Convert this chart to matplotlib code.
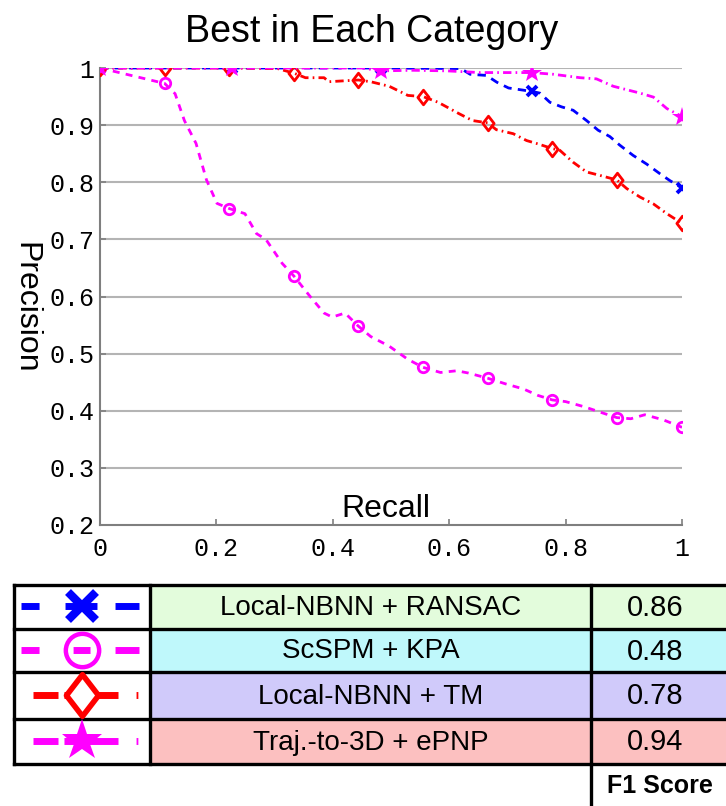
#!/usr/bin/env python3

import matplotlib

matplotlib.use("Agg")
import matplotlib.pyplot as plt
import numpy as np
from matplotlib.path import Path
from matplotlib.patches import Rectangle

plt.rcParams["font.family"] = ["Liberation Sans", "DejaVu Sans"]
plt.rcParams["lines.scale_dashes"] = False

# ---- curve data (recall, precision) ----
ransac_x = [0, 0.227, 0.483, 0.62, 0.636, 0.664, 0.682, 0.702, 0.722, 0.742, 0.756,
            0.773, 0.793, 0.813, 0.836, 0.856, 0.876, 0.893, 0.916, 0.939, 0.962,
            0.979, 1.0]
ransac_y = [1, 1, 1, 0.999, 0.989, 0.987, 0.975, 0.965, 0.962, 0.959, 0.956,
            0.940, 0.932, 0.926, 0.908, 0.891, 0.880, 0.865, 0.847, 0.832, 0.815,
            0.803, 0.790]
ransac_marks = [0, 0.227, 0.483, 0.742, 1.0]

kpa_x = [0, 0.111, 0.129, 0.145, 0.165, 0.183, 0.201, 0.222, 0.249, 0.269, 0.285,
         0.313, 0.333, 0.361, 0.385, 0.399, 0.421, 0.444, 0.465, 0.497, 0.529,
         0.555, 0.585, 0.613, 0.633, 0.666, 0.697, 0.728, 0.752, 0.777, 0.8,
         0.832, 0.864, 0.888, 0.912, 0.936, 0.968, 1.0]
kpa_y = [1, 0.973, 0.955, 0.908, 0.868, 0.804, 0.763, 0.754, 0.745, 0.710, 0.700,
         0.658, 0.636, 0.600, 0.571, 0.564, 0.571, 0.548, 0.530, 0.513, 0.490,
         0.476, 0.467, 0.470, 0.466, 0.457, 0.447, 0.438, 0.427, 0.419, 0.416,
         0.407, 0.396, 0.388, 0.386, 0.393, 0.384, 0.371]
kpa_marks = [0, 0.111, 0.222, 0.333, 0.444, 0.555, 0.666, 0.777, 0.888, 1.0]

tm_x = [0, 0.111, 0.222, 0.305, 0.333, 0.353, 0.385, 0.393, 0.444, 0.465, 0.497,
        0.529, 0.555, 0.581, 0.617, 0.640, 0.666, 0.681, 0.710, 0.733, 0.753,
        0.777, 0.790, 0.813, 0.836, 0.859, 0.888, 0.905, 0.928, 0.951, 0.974, 1.0]
tm_y = [1, 1, 1, 0.999, 0.991, 0.983, 0.983, 0.976, 0.979, 0.976, 0.968,
        0.952, 0.950, 0.940, 0.920, 0.908, 0.904, 0.892, 0.885, 0.873, 0.867,
        0.859, 0.856, 0.835, 0.818, 0.812, 0.804, 0.789, 0.774, 0.762, 0.745, 0.728]
tm_marks = [0, 0.111, 0.222, 0.333, 0.444, 0.555, 0.666, 0.777, 0.888, 1.0]

traj_x = [0, 0.227, 0.45, 0.483, 0.538, 0.596, 0.653, 0.710, 0.742, 0.779, 0.825,
          0.853, 0.882, 0.905, 0.928, 0.951, 0.974, 1.0]
traj_y = [1, 1, 1, 0.995, 0.996, 0.995, 0.992, 0.992, 0.992, 0.989, 0.983,
          0.981, 0.968, 0.962, 0.956, 0.949, 0.929, 0.915]
traj_marks = [0, 0.227, 0.483, 0.742, 1.0]

# ---- table data ----
methods = ["Local-NBNN + RANSAC", "ScSPM + KPA", "Local-NBNN + TM", "Traj.-to-3D + ePNP"]
f1_scores = ["0.86", "0.48", "0.78", "0.94"]
row_colors = ["#e3fcdc", "#bff8fb", "#d0cafa", "#fcc0c0"]

x_ticks = [0, 0.2, 0.4, 0.6, 0.8, 1.0]
x_tick_labels = ["0", "0.2", "0.4", "0.6", "0.8", "1"]
y_ticks = [0.2, 0.3, 0.4, 0.5, 0.6, 0.7, 0.8, 0.9, 1.0]
y_tick_labels = ["0.2", "0.3", "0.4", "0.5", "0.6", "0.7", "0.8", "0.9", "1"]

MAGENTA = "#ff00ff"
BLUE = "#0000ff"
RED = "#ff0000"

diamond = Path([(0, 1), (0.77, 0), (0, -1), (-0.77, 0), (0, 1)],
               [Path.MOVETO, Path.LINETO, Path.LINETO, Path.LINETO, Path.CLOSEPOLY])

W, H = 726, 806
fig = plt.figure(figsize=(W / 100, H / 100), dpi=100)


def mark_idx(xs, marks):
    return [int(np.argmin(np.abs(np.array(xs) - m))) for m in marks]


# ---- main plot ----
ax = fig.add_axes([100 / W, 1 - 525 / H, 582 / W, 457 / H])
ax.set_xlim(0, 1)
ax.set_ylim(0.2, 1.0)
for y in y_ticks[1:]:
    ax.axhline(y, color="#b4b4b4", lw=1.5, zorder=1)

series = [
    (ransac_x, ransac_y, ransac_marks, BLUE, (0, (6, 4.5)), "x",
     dict(ms=6.5, mew=2.8)),
    (kpa_x, kpa_y, kpa_marks, MAGENTA, (0, (5, 4.5)), "o",
     dict(ms=7.5, mew=2, mfc="none")),
    (tm_x, tm_y, tm_marks, RED, (0, (6, 3, 1.2, 3)), diamond,
     dict(ms=10.5, mew=2, mfc="none")),
    (traj_x, traj_y, traj_marks, MAGENTA, (0, (6, 3, 1.2, 3)), "*",
     dict(ms=15, mew=0)),
]
for xs, ys, marks, color, ls, marker, mkw in series:
    ax.plot(xs, ys, color=color, lw=2, ls=ls, marker=marker,
            markevery=mark_idx(xs, marks), mec=color, zorder=3, **mkw)

for side in ("top", "right"):
    ax.spines[side].set_visible(False)
for side in ("left", "bottom"):
    ax.spines[side].set_color("#7f7f7f")
    ax.spines[side].set_linewidth(1.5)

ax.set_xticks(x_ticks)
ax.set_xticklabels(x_tick_labels)
ax.set_yticks(y_ticks)
ax.set_yticklabels(y_tick_labels)
ax.tick_params(axis="both", direction="in", length=4, width=1.2, color="#7f7f7f",
               labelsize=18)
ax.tick_params(axis="x", pad=9)
ax.tick_params(axis="y", pad=4)
for lab in ax.get_xticklabels() + ax.get_yticklabels():
    lab.set_family("Liberation Mono")

ax.text(0.491, 0.0175, "Recall", transform=ax.transAxes, ha="center",
        va="baseline", fontsize=23)
fig.text(25 / W, 1 - 308 / H, "Precision", rotation=-90, ha="center",
         va="center", fontsize=23)
fig.text(372 / W, 1 - 42 / H, "Best in Each Category", ha="center",
         va="baseline", fontsize=27)

# ---- legend table ----
tab = fig.add_axes([0, 0, 1, 1], zorder=-1)
tab.set_xlim(0, W)
tab.set_ylim(H, 0)
tab.axis("off")

row_edges = [585, 629, 672, 719, 764]
col_edges = [14, 150, 591, 730]

for i, color in enumerate(row_colors):
    top, bot = row_edges[i], row_edges[i + 1]
    tab.add_patch(Rectangle((col_edges[1], top), col_edges[3] - col_edges[1],
                            bot - top, facecolor=color, edgecolor="none"))
    yc = (top + bot) / 2 + 1
    tab.text((col_edges[1] + col_edges[2]) / 2, yc, methods[i], ha="center",
             va="center", fontsize=20)
    tab.text((col_edges[2] + col_edges[3]) / 2 - 5, yc, f1_scores[i],
             ha="center", va="center", fontsize=21)

for y in row_edges:
    tab.plot([col_edges[0], col_edges[3]], [y, y], color="black", lw=2.4,
             solid_capstyle="projecting")
for x in col_edges[:3]:
    tab.plot([x, x], [row_edges[0], row_edges[-1]], color="black", lw=2.4,
             solid_capstyle="projecting")
tab.plot([col_edges[2], col_edges[2]], [row_edges[-1], H], color="black", lw=2.4)
tab.text(660, 786, "F1 Score", ha="center", va="center", fontsize=18,
         fontweight="bold")

# legend icons: (x start, dash pattern in points, marker style)
icon_cx = 82
icons = [
    (21, BLUE, (0, (13, 18.7, 23, 13, 17.3, 40)), "x",
     dict(ms=20, mew=6)),
    (21, MAGENTA, (0, (13, 24.5, 12.2, 18, 17.3, 40)), "o",
     dict(ms=24, mew=3.2, mfc="none")),
    (33, RED, (0, (18, 4.3, 38.9, 13, 1.3, 40)), diamond,
     dict(ms=30, mew=4, mfc="white")),
    (33, MAGENTA, (0, (18, 4.3, 38.9, 13, 1.3, 40)), "*",
     dict(ms=31, mew=0)),
]
for i, (x0, color, ls, marker, mkw) in enumerate(icons):
    yc = (row_edges[i] + row_edges[i + 1]) / 2 - 1
    tab.plot([x0, icon_cx, 139], [yc, yc, yc], color=color, lw=5, ls=ls,
             marker=marker, markevery=[1], mec=color, **mkw)

fig.savefig("out.png", dpi=100)
plt.close(fig)
